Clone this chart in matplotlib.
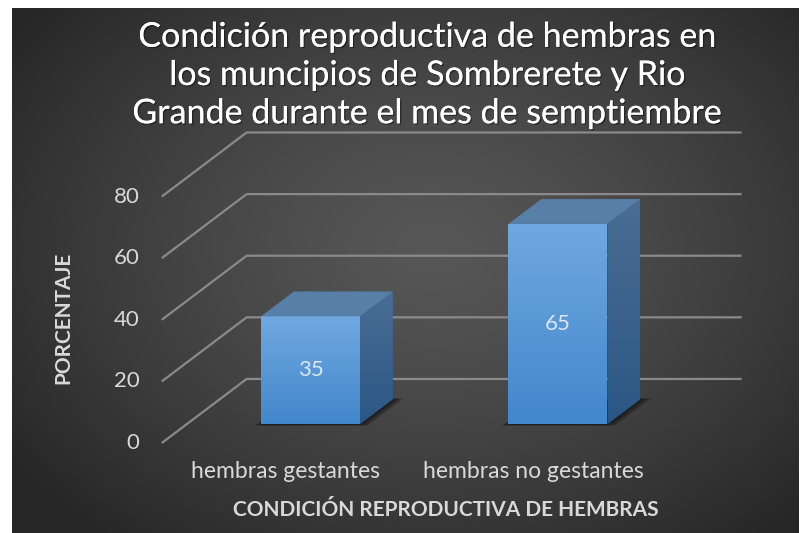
import matplotlib
matplotlib.use("Agg")
import matplotlib.pyplot as plt
import matplotlib.patheffects as pe
from matplotlib.patches import Polygon
import numpy as np

# datos
categorias = ["hembras gestantes", "hembras no gestantes"]
valores = [35, 65]
yticks = [0, 20, 40, 60, 80]
titulo = ("Condición reproductiva de hembras en\n"
          "los muncipios de Sombrerete y Rio\n"
          "Grande durante el mes de semptiembre")
xlabel = "CONDICIÓN REPRODUCTIVA DE HEMBRAS"
ylabel = "PORCENTAJE"

plt.rcParams['font.family'] = ['Lato', 'DejaVu Sans']

W, H = 801, 533
fig = plt.figure(figsize=(W / 100, H / 100), dpi=100)
fig.patch.set_facecolor("white")

# fondo oscuro con degradado radial
bg = fig.add_axes([12 / W, 0, (799 - 12) / W, (H - 8) / H])
gy, gx = np.mgrid[0:525, 0:787]
r = np.sqrt(((gx - 420) / 520.0) ** 2 + ((gy - 240) / 380.0) ** 2)
r = np.clip(r, 0, 1)
g = 0.34 - 0.19 * r ** 1.3
bg.imshow(np.dstack([g, g, g]), aspect="auto", extent=[0, 1, 0, 1], origin="upper")
bg.axis("off")

# ejes principales (pseudo 3D)
ax = fig.add_axes([0, 0, 1, 1])
ax.patch.set_alpha(0)
ax.axis("off")
ax.set_xlim(-1.1535, 2.0828)
ax.set_ylim(-29.2, 143.8)

DX, DY = 0.343, 20.8      # desplazamiento por profundidad
D0, D1 = 0.294, 0.682     # profundidad de las barras
HW = 0.2                  # media anchura de barra
x0, x1 = -0.5, len(categorias) - 0.5


def proj(c, v, d):
    return (c + d * DX, v + d * DY)


grid_col = "#8a8a8a"
for v in yticks:
    pts = [proj(x0, v, 0), proj(x0, v, 1), proj(x1, v, 1)]
    ax.plot([p[0] for p in pts], [p[1] for p in pts], color=grid_col, lw=1.6,
            solid_capstyle="butt", zorder=1)
    ax.annotate(str(v), proj(x0, v, 0), xytext=(-22, 0), textcoords="offset pixels",
                ha="right", va="center", fontsize=16, color="#d9d9d9")


def grad_fill(poly, top_rgb, bot_rgb, vmin, vmax, z):
    poly.set_facecolor("none")
    poly.set_edgecolor("none")
    ax.add_patch(poly)
    t = np.linspace(0, 1, 100)[:, None]
    img = np.dstack([np.repeat(top_rgb[k] + (bot_rgb[k] - top_rgb[k]) * t, 2, axis=1)
                     for k in range(3)])
    xs = np.array(poly.get_xy())[:, 0]
    im = ax.imshow(img, extent=[xs.min(), xs.max(), vmin, vmax], origin="upper",
                   aspect="auto", zorder=z, interpolation="bilinear")
    im.set_clip_path(poly)


for i, v in enumerate(valores):
    # sombra
    for k in range(5):
        e = 0.008 * (5 - k)
        sh = [proj(i - HW - e * 0.5, 0, D0 - e * 0.6), proj(i + HW + e, 0, D0 - e * 0.6),
              proj(i + HW + e, 0, D1 + e * 0.4), proj(i - HW, 0, D1 + e * 0.4)]
        ax.add_patch(Polygon(sh, closed=True, facecolor="#0d0d0d", alpha=0.2,
                             edgecolor="none", zorder=2))
    front = [proj(i - HW, 0, D0), proj(i + HW, 0, D0), proj(i + HW, v, D0), proj(i - HW, v, D0)]
    top = [proj(i - HW, v, D0), proj(i + HW, v, D0), proj(i + HW, v, D1), proj(i - HW, v, D1)]
    side = [proj(i + HW, 0, D0), proj(i + HW, 0, D1), proj(i + HW, v, D1), proj(i + HW, v, D0)]
    grad_fill(Polygon(front, closed=True), (0.44, 0.66, 0.88), (0.26, 0.53, 0.80),
              front[0][1], front[2][1], 4)
    grad_fill(Polygon(side, closed=True), (0.29, 0.43, 0.58), (0.17, 0.34, 0.52),
              side[0][1], side[2][1], 4)
    ax.add_patch(Polygon(top, closed=True, facecolor="#587fa8", edgecolor="none", zorder=4))
    cx, cy = proj(i, v / 2, D0)
    ax.text(cx, cy, str(v), ha="center", va="center", fontsize=16, color="#dce6f0", zorder=5)
    # etiqueta de categoria
    ax.annotate(categorias[i], proj(i, 0, 0), xytext=(0, -28), textcoords="offset pixels",
                ha="center", va="center", fontsize=16.5, color="#d9d9d9")

shadow = [pe.withSimplePatchShadow(offset=(1.0, -1.0), shadow_rgbFace="black", alpha=0.4),
          pe.Normal()]
fig.text(427 / W, 1 - 75 / H, titulo, ha="center", va="center", fontsize=24.5,
         color="white", linespacing=1.24, path_effects=shadow)
fig.text(446 / W, 1 - 510 / H, xlabel, ha="center", va="center", fontsize=15,
         fontweight="bold", color="#d9d9d9")
fig.text(63 / W, 1 - 318 / H, ylabel, ha="center", va="center", fontsize=15,
         fontweight="bold", color="#d9d9d9", rotation=90)

fig.savefig("out.png", dpi=100)
